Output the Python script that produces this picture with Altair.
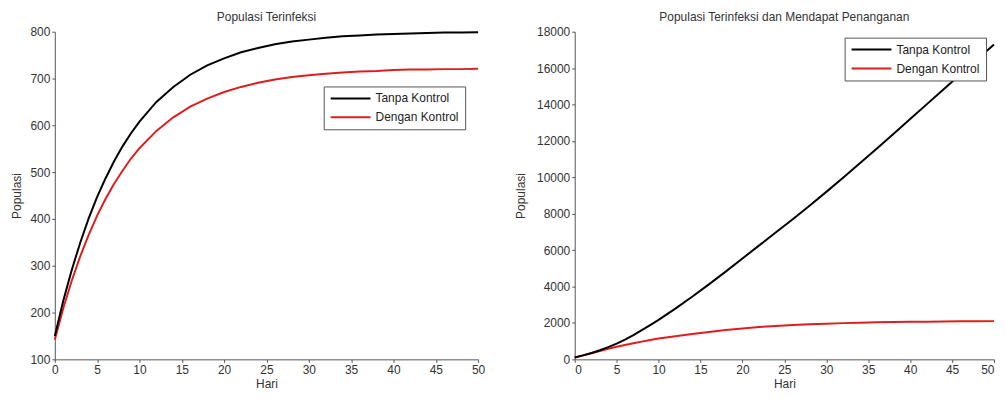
import altair as alt
import pandas as pd

days = [0, 1, 2, 3, 4, 5, 6, 7, 8, 9, 10, 12, 14, 16, 18, 20, 22, 24, 26, 28,
        30, 32, 34, 36, 38, 40, 42, 44, 46, 48, 50]

left_tanpa = [150, 225, 291, 349, 401, 447, 487, 523, 555, 583, 608, 650, 682, 708,
              728, 743, 756, 765, 773, 779, 783, 787, 790, 792, 794, 795, 796, 797,
              798, 798, 799]
left_dengan = [142, 209, 268, 320, 366, 407, 443, 475, 503, 529, 551, 588, 617, 640,
               657, 671, 682, 691, 698, 703, 707, 710, 713, 715, 716, 718, 719, 719,
               720, 720, 721]

right_tanpa = [100, 220, 350, 500, 670, 860, 1080, 1330, 1600, 1880, 2170, 2790, 3440,
               4120, 4820, 5540, 6260, 6980, 7700, 8440, 9200, 9980, 10770, 11570,
               12380, 13200, 14020, 14840, 15660, 16480, 17300]
right_dengan = [100, 220, 340, 460, 580, 690, 790, 885, 975, 1060, 1140, 1270, 1390,
                1500, 1610, 1700, 1775, 1835, 1885, 1925, 1960, 1990, 2015, 2035, 2050,
                2062, 2072, 2080, 2088, 2094, 2100]

series = ["Tanpa Kontrol", "Dengan Kontrol"]
colors = ["#000000", "#de1e1e"]

left_title = "Populasi Terinfeksi"
right_title = "Populasi Terinfeksi dan Mendapat Penanganan"
x_ticks = [0, 5, 10, 15, 20, 25, 30, 35, 40, 45, 50]
left_yticks = [100, 200, 300, 400, 500, 600, 700, 800]
right_yticks = [0, 2000, 4000, 6000, 8000, 10000, 12000, 14000, 16000, 18000]

FONT = "Liberation Sans"


def make_df(tanpa, dengan):
    rows = []
    for name, vals in ((series[1], dengan), (series[0], tanpa)):
        for d, v in zip(days, vals):
            rows.append({"Hari": d, "Populasi": v, "Seri": name})
    return pd.DataFrame(rows)


def panel(title, tanpa, dengan, ydom, yticks, w, h, lx, ly, ytp, flush):
    df = make_df(tanpa, dengan)
    return (
        alt.Chart(df)
        .mark_line(strokeWidth=2)
        .encode(
            x=alt.X("Hari:Q", scale=alt.Scale(domain=[0, 50], nice=False),
                    axis=alt.Axis(values=x_ticks, title="Hari", titlePadding=3,
                                  labelFlush=flush)),
            y=alt.Y("Populasi:Q", scale=alt.Scale(domain=ydom, nice=False),
                    axis=alt.Axis(values=yticks, title="Populasi", titlePadding=ytp,
                                  format="d")),
            color=alt.Color(
                "Seri:N",
                scale=alt.Scale(domain=series, range=colors),
                legend=alt.Legend(
                    title=None, orient="none", legendX=lx, legendY=ly,
                    symbolType="M-4,0L4,0", symbolSize=100, symbolStrokeWidth=2,
                    symbolOffset=15, labelOffset=19,
                    labelFontSize=12, labelFont=FONT, labelColor="#222",
                    strokeColor="#555", fillColor="white", padding=6,
                    rowPadding=7,
                ),
            ),
            detail="Seri:N",
        )
        .properties(
            width=w, height=h,
            title=alt.TitleParams(title, fontSize=12, fontWeight="normal", font=FONT,
                                  color="#333", offset=2, anchor="middle"),
        )
    )


left = panel(left_title, left_tanpa, left_dengan, [100, 800], left_yticks,
             425, 329, 270, 55, 6, False)
right = panel(right_title, right_tanpa, right_dengan, [0, 18000], right_yticks,
              421, 329, 271, 6, 9, True)

chart = (
    alt.hconcat(left, right, spacing=97, bounds="flush")
    .resolve_legend(color="independent")
    .properties(padding={"left": 2, "top": 2, "right": 0, "bottom": 0})
    .configure_view(stroke=None)
    .configure_axis(
        grid=False, domainColor="#555", tickColor="#555", tickSize=3,
        labelPadding=2, labelFont=FONT, labelFontSize=12, labelColor="#333",
        titleFont=FONT, titleFontSize=12, titleFontWeight="normal", titleColor="#333",
    )
)

chart.save("out.html", embed_options={"renderer": "svg", "actions": False})
